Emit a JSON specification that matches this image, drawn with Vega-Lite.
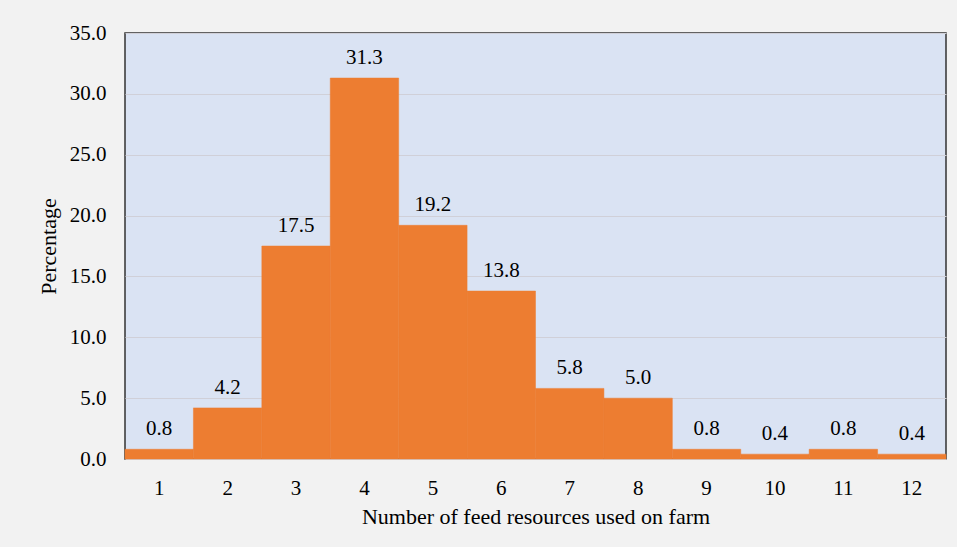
{
  "$schema": "https://vega.github.io/schema/vega-lite/v6.json",
  "width": 821,
  "height": 426,
  "autosize": {"type": "none"},
  "padding": {"left": 125, "top": 33, "right": 11, "bottom": 88},
  "background": "#F2F2F2",
  "config": {
    "view": {"fill": "#DAE3F3", "stroke": "#333333", "strokeWidth": 1.5},
    "font": "Liberation Serif",
    "text": {"font": "Liberation Serif"}
  },
  "data": {
    "values": [
      {"n": "1", "pct": 0.8},
      {"n": "2", "pct": 4.2},
      {"n": "3", "pct": 17.5},
      {"n": "4", "pct": 31.3},
      {"n": "5", "pct": 19.2},
      {"n": "6", "pct": 13.8},
      {"n": "7", "pct": 5.8},
      {"n": "8", "pct": 5.0},
      {"n": "9", "pct": 0.8},
      {"n": "10", "pct": 0.4},
      {"n": "11", "pct": 0.8},
      {"n": "12", "pct": 0.4}
    ]
  },
  "encoding": {
    "x": {
      "field": "n",
      "type": "ordinal",
      "sort": null,
      "scale": {"paddingInner": 0, "paddingOuter": 0},
      "axis": {
        "title": "Number of feed resources used on farm",
        "labelAngle": 0,
        "labelFont": "Liberation Serif",
        "labelFontSize": 21,
        "labelColor": "#000000",
        "labelPadding": 18,
        "titleFont": "Liberation Serif",
        "titleFontSize": 22,
        "titleFontWeight": "normal",
        "titleColor": "#000000",
        "titlePadding": 8,
        "ticks": false,
        "domain": false
      }
    },
    "y": {
      "field": "pct",
      "type": "quantitative",
      "scale": {"domain": [0, 35], "nice": false},
      "axis": {
        "title": "Percentage",
        "values": [0, 5, 10, 15, 20, 25, 30, 35],
        "format": ".1f",
        "labelFont": "Liberation Serif",
        "labelFontSize": 21,
        "labelColor": "#000000",
        "labelPadding": 19,
        "titleFont": "Liberation Serif",
        "titleFontSize": 22,
        "titleFontWeight": "normal",
        "titleColor": "#000000",
        "titlePadding": 9,
        "ticks": false,
        "domain": false,
        "gridColor": "#D0D0D8",
        "gridWidth": 1
      }
    }
  },
  "layer": [
    {"mark": {"type": "bar", "color": "#ED7D31", "stroke": "#ED7D31", "strokeWidth": 0.5}},
    {
      "mark": {"type": "text", "dy": -20, "fontSize": 21, "color": "#000000", "font": "Liberation Serif"},
      "encoding": {"text": {"field": "pct", "type": "quantitative", "format": ".1f"}}
    }
  ]
}
